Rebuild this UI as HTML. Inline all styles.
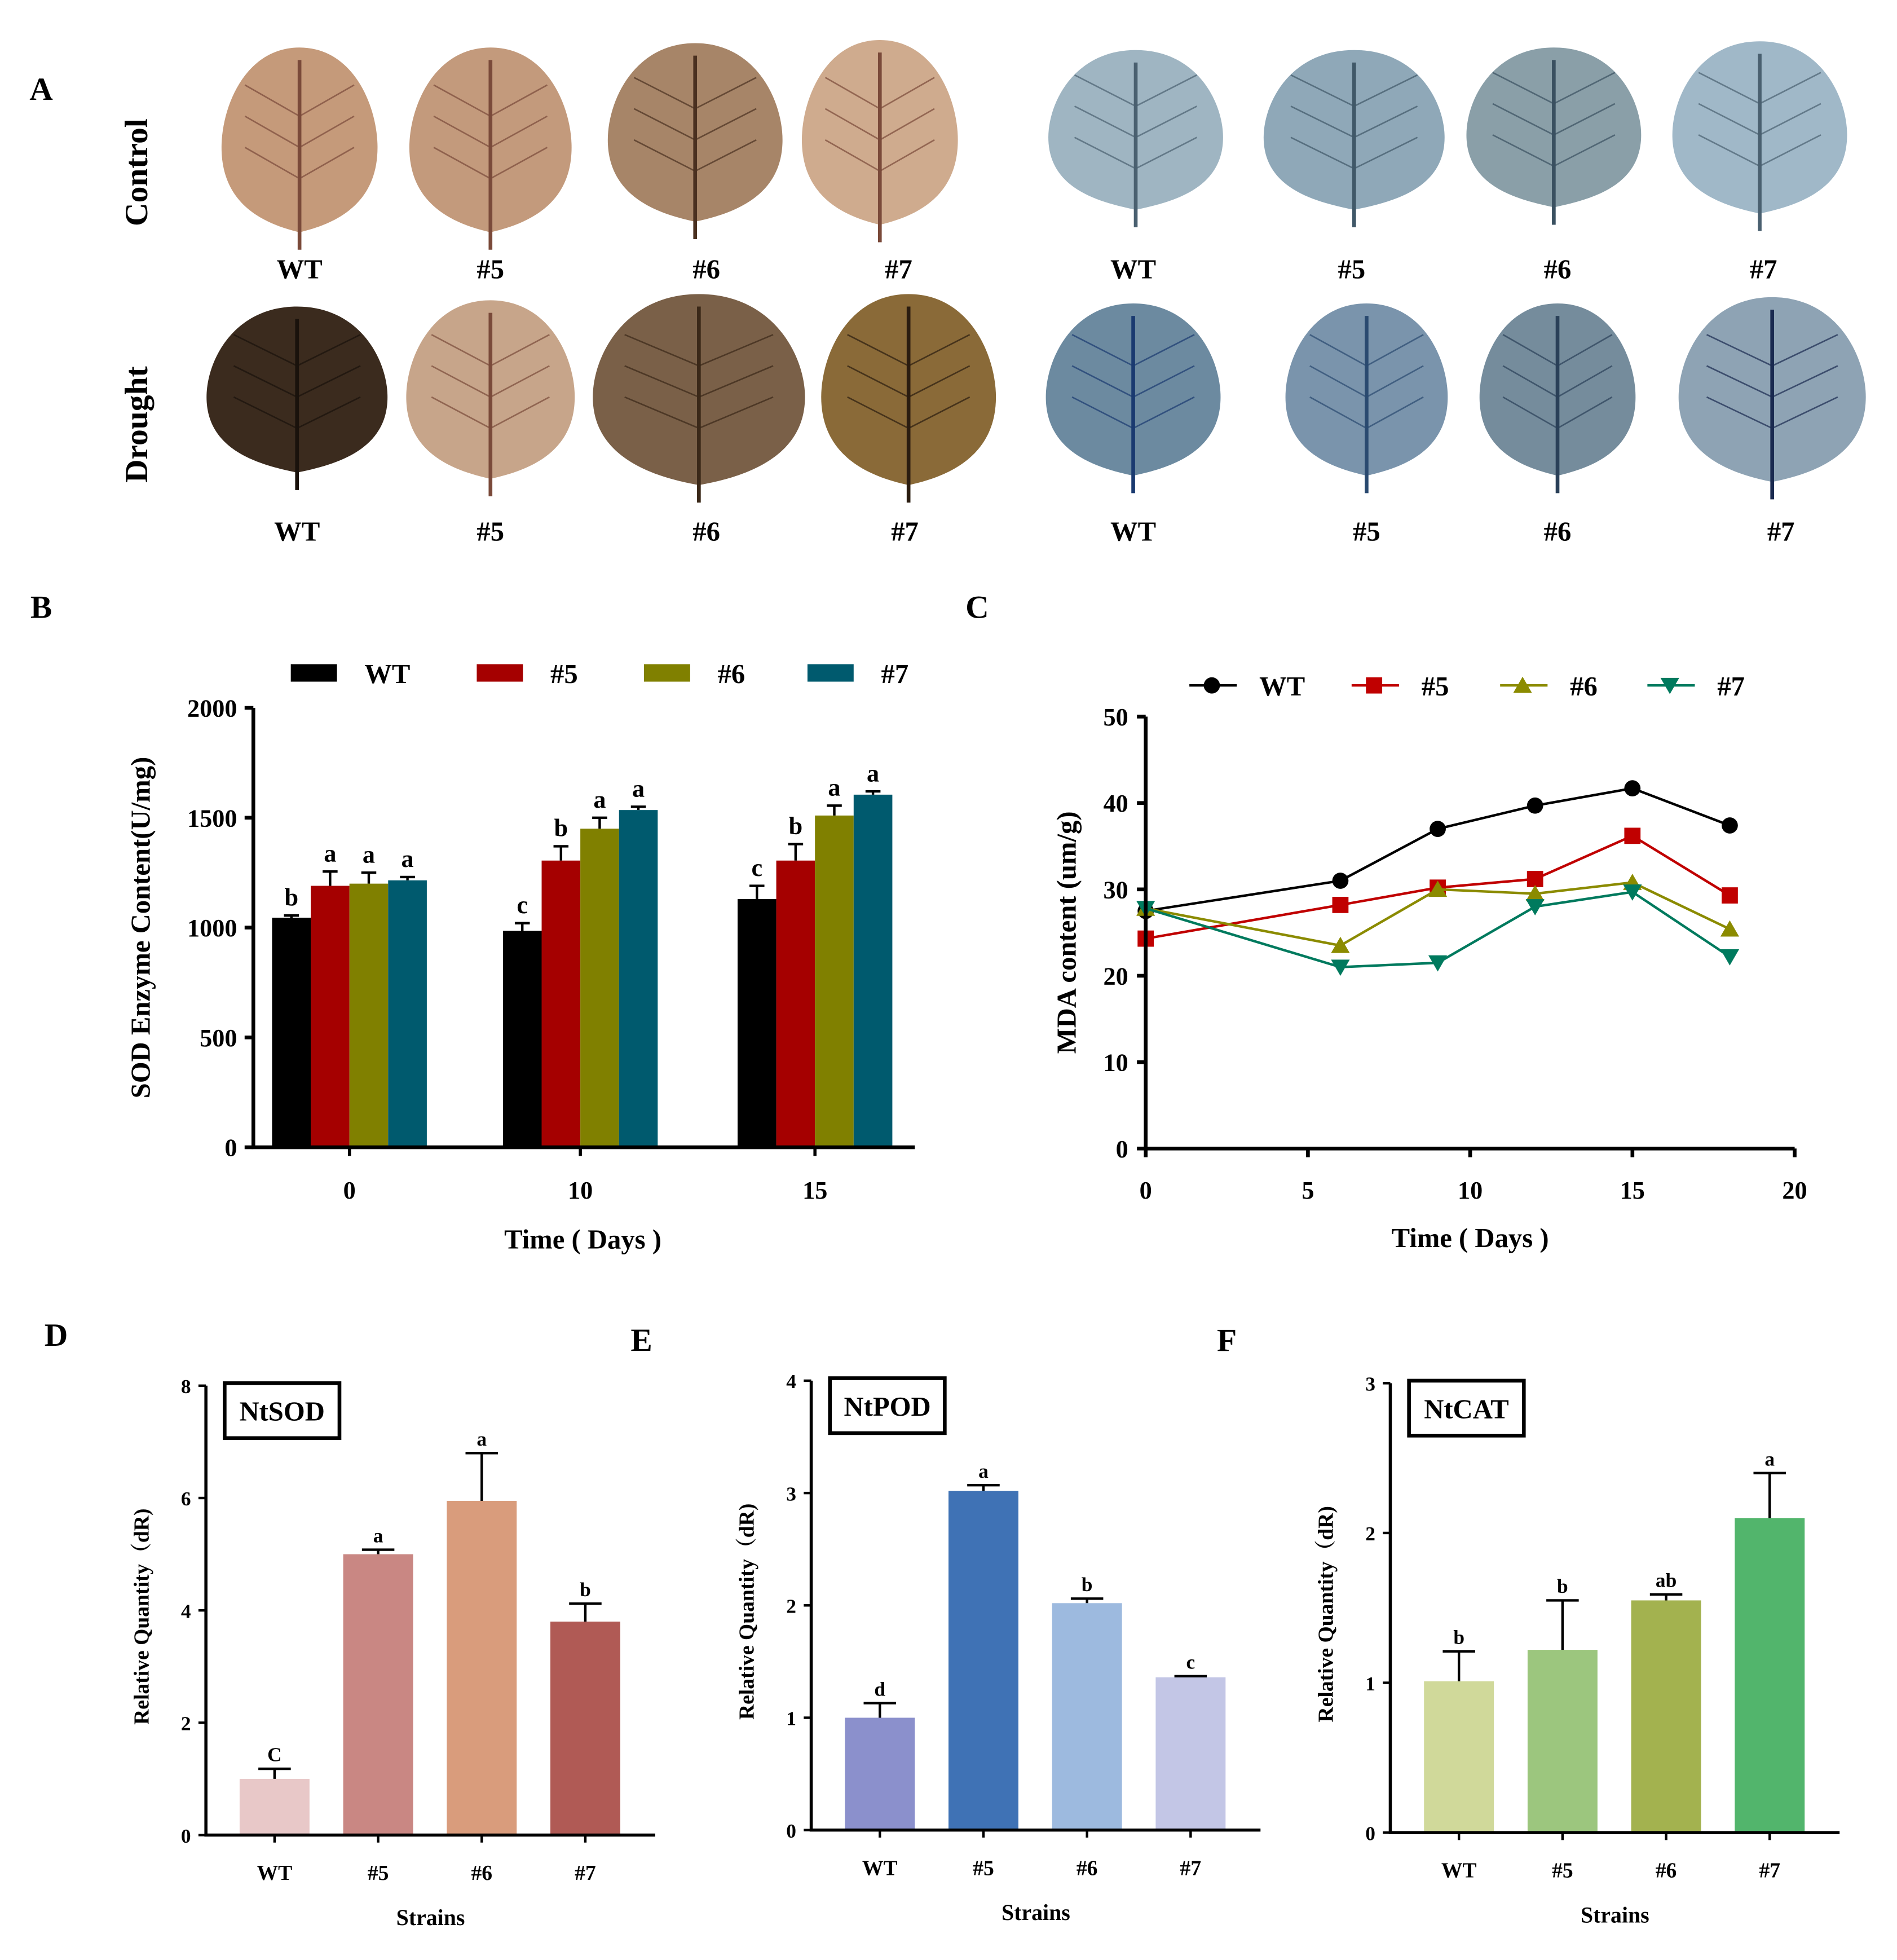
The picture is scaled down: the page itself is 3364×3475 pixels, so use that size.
<!DOCTYPE html>
<html><head><meta charset="utf-8">
<style>
html,body{margin:0;padding:0;background:#fff;}
svg{display:block;font-family:"Liberation Serif",serif;font-weight:bold;}
</style></head>
<body>
<svg id="fig" width="3364" height="3475" viewBox="0 0 1520 1570" xmlns="http://www.w3.org/2000/svg"></svg>
<script>
// ---- Panel B data ----
const bDays = ['0','10','15'];
const bSeries = ['WT','#5','#6','#7'];
const bWT = [1045, 985, 1130];
const b5 = [1190, 1305, 1305];
const b6 = [1200, 1450, 1510];
const b7 = [1215, 1535, 1605];
const bErrWT = [10, 35, 60];
const bErr5 = [65, 65, 75];
const bErr6 = [50, 50, 45];
const bErr7 = [15, 15, 15];
const bLetters = [['b','a','a','a'],['c','b','a','a'],['c','b','a','a']];
const bTicks = [0, 500, 1000, 1500, 2000];
// ---- Panel C data ----
const cDays = [0, 6, 9, 12, 15, 18];
const cWT = [27.5, 31, 37, 39.7, 41.7, 37.4];
const c5 = [24.3, 28.2, 30.2, 31.2, 36.2, 29.3];
const c6 = [27.8, 23.5, 30, 29.5, 30.8, 25.4];
const c7 = [27.8, 21, 21.5, 28, 29.7, 22.2];
const cXTicks = [0, 5, 10, 15, 20];
const cYTicks = [0, 10, 20, 30, 40, 50];
// ---- Panels D/E/F data ----
const strains = ['WT','#5','#6','#7'];
const dVals = [1.0, 5.0, 5.95, 3.8];
const dErr = [0.18, 0.08, 0.85, 0.32];
const dLet = ['C','a','a','b'];
const dTicks = [0, 2, 4, 6, 8];
const eVals = [1.0, 3.02, 2.02, 1.36];
const eErr = [0.13, 0.05, 0.04, 0.01];
const eLet = ['d','a','b','c'];
const eTicks = [0, 1, 2, 3, 4];
const fVals = [1.01, 1.22, 1.55, 2.1];
const fErr = [0.2, 0.33, 0.04, 0.3];
const fLet = ['b','b','ab','a'];
const fTicks = [0, 1, 2, 3];

const NS = 'http://www.w3.org/2000/svg';
const svg = document.getElementById('fig');
function mk(tag, attrs, parent) {
  const e = document.createElementNS(NS, tag);
  for (const k in attrs) e.setAttribute(k, attrs[k]);
  (parent || svg).appendChild(e);
  return e;
}
function txt(x, y, s, size, anchor, parent, extra) {
  const t = mk('text', Object.assign({x: x, y: y, 'font-size': size, 'text-anchor': anchor || 'middle', fill: '#000'}, extra || {}), parent);
  t.textContent = s;
  return t;
}

// ===== Panel A =====
let t = txt(33, 80, 'A', 26, 'middle');


t = txt(0, 0, 'Control', 26, 'middle', svg, {transform: 'translate(118,138) rotate(-90)'});


t = txt(0, 0, 'Drought', 26, 'middle', svg, {transform: 'translate(118,340) rotate(-90)'});



function leaf(cx, cy, w, h, fill, vein, name) {
  const g = mk('g', {});
  
  
  const top = cy - h/2, bot = cy + h/2 - 12;
  const d = `M${cx},${top} C${cx+w*0.35},${top} ${cx+w/2},${cy-h*0.2} ${cx+w/2},${cy} C${cx+w/2},${cy+h*0.3} ${cx+w*0.2},${bot-6} ${cx},${bot} C${cx-w*0.2},${bot-6} ${cx-w/2},${cy+h*0.3} ${cx-w/2},${cy} C${cx-w/2},${cy-h*0.2} ${cx-w*0.35},${top} ${cx},${top} Z`;
  mk('path', {d: d, fill: fill}, g);
  mk('line', {x1: cx, y1: top + 10, x2: cx, y2: bot + 14, stroke: vein, 'stroke-width': 3}, g);
  for (let i = 0; i < 3; i++) {
    const yy = cy + 25 - i*25;
    mk('line', {x1: cx, y1: yy, x2: cx - w*0.35, y2: yy - 25, stroke: vein, 'stroke-width': 1.2, opacity: 0.7}, g);
    mk('line', {x1: cx, y1: yy, x2: cx + w*0.35, y2: yy - 25, stroke: vein, 'stroke-width': 1.2, opacity: 0.7}, g);
  }
}
const row1 = [[240,118,125,160,'#c59a7a','#7a4a3a'],[393,118,130,160,'#c39a7c','#7a4a3a'],[557,112,140,155,'#a78568','#4a3020'],[705,112,125,160,'#cfab8e','#7a4a3a'],
  [910,110,140,140,'#9fb5c2','#4a6070'],[1085,110,145,140,'#8fa8b8','#405868'],[1245,108,140,140,'#8a9fa8','#3a5060'],[1410,108,140,150,'#a0b8c8','#4a6070']];
const row2 = [[238,318,145,145,'#3b2b1e','#1a120c'],[393,318,135,155,'#c7a58a','#7a4a3a'],[560,318,170,165,'#7a6048','#3a2818'],[728,318,140,165,'#8a6a38','#2a1c10'],
  [908,318,140,150,'#6c8aa0','#1a3a70'],[1095,318,130,150,'#7a94ac','#2a4a70'],[1248,318,125,150,'#758c9c','#2a4058'],[1420,318,150,160,'#8ea3b4','#1a2a50']];
row1.forEach((r, i) => leaf(r[0], r[1], r[2], r[3], r[4], r[5], 'control-leaf-' + (i+1)));
row2.forEach((r, i) => leaf(r[0], r[1], r[2], r[3], r[4], r[5], 'drought-leaf-' + (i+1)));
const aLab1 = [240,393,566,720,908,1083,1248,1413];
const aLab2 = [238,393,566,725,908,1095,1248,1427];
const aNames = ['WT','#5','#6','#7','WT','#5','#6','#7'];
aLab1.forEach((x, i) => { const e = txt(x, 223, aNames[i], 22);   });
aLab2.forEach((x, i) => { const e = txt(x, 433, aNames[i], 22);   });

// ===== Panel B =====
t = txt(33, 495, 'B', 26);


const bY = v => 919 - v * (352/2000);
const bGroupX = [280, 465, 653];
const bColors = ['#000000', '#a50000', '#808000', '#005a6e'];
const bVals = [bWT, b5, b6, b7];
const bErrs = [bErrWT, bErr5, bErr6, bErr7];
const bLegX = [233, 382, 516, 647];
bSeries.forEach((s, i) => {
  const r = mk('rect', {x: bLegX[i], y: 532, width: 37, height: 14, fill: bColors[i]});
  
  
  const e = txt(bLegX[i] + 59, 547, s, 22, 'start');
  
  
});
bDays.forEach((d, gi) => {
  bSeries.forEach((s, si) => {
    const x = bGroupX[gi] - 62 + si * 31;
    const v = bVals[si][gi], er = bErrs[si][gi];
    const r = mk('rect', {x: x, y: bY(v), width: 31, height: bY(0) - bY(v), fill: bColors[si]});
    
    
    const cx = x + 15.5;
    const eb = mk('path', {d: `M${cx},${bY(v)} V${bY(v+er)} M${cx-6},${bY(v+er)} H${cx+6}`, stroke: '#000', 'stroke-width': 2, fill: 'none'});
    
    
    const l = txt(cx, bY(v+er) - 8, bLetters[gi][si], 20);
    
    
  });
  const xl = txt(bGroupX[gi], 960, d, 20);
  
  
  mk('line', {x1: bGroupX[gi], y1: 919, x2: bGroupX[gi], y2: 926, stroke: '#000', 'stroke-width': 2.5});
});
let ax = mk('path', {d: 'M203,567 V919 H733', stroke: '#000', 'stroke-width': 3, fill: 'none'});


bTicks.forEach(v => {
  mk('line', {x1: 196, y1: bY(v), x2: 203, y2: bY(v), stroke: '#000', 'stroke-width': 3});
  const e = txt(190, bY(v) + 7, String(v), 20, 'end');
  
  
});
t = txt(0, 0, 'SOD Enzyme Content(U/mg)', 22, 'middle', svg, {transform: 'translate(120,743) rotate(-90)'});


t = txt(467, 1000, 'Time ( Days )', 22);



// ===== Panel C =====
t = txt(783, 495, 'C', 26);


const cX = v => 918 + v * 26;
const cY = v => 920 - v * (346/50);
const cSeries = [cWT, c5, c6, c7];
const cNames = ['WT','#5','#6','#7'];
const cColors = ['#000000', '#c00000', '#8b8b00', '#007a5e'];
function marker(i, x, y, parent) {
  if (i === 0) return mk('circle', {cx: x, cy: y, r: 6.5, fill: cColors[0]}, parent);
  if (i === 1) return mk('rect', {x: x-6.5, y: y-6.5, width: 13, height: 13, fill: cColors[1]}, parent);
  if (i === 2) return mk('path', {d: `M${x},${y-7} L${x+7.5},${y+6} L${x-7.5},${y+6} Z`, fill: cColors[2]}, parent);
  return mk('path', {d: `M${x},${y+7} L${x+7.5},${y-6} L${x-7.5},${y-6} Z`, fill: cColors[3]}, parent);
}
const cLegX = [953, 1083, 1202, 1320];
cNames.forEach((n, i) => {
  const g = mk('g', {});
  
  
  mk('line', {x1: cLegX[i], y1: 549, x2: cLegX[i] + 38, y2: 549, stroke: cColors[i], 'stroke-width': 2}, g);
  marker(i, cLegX[i] + 18, 549, g);
  txt(cLegX[i] + 56, 557, n, 22, 'start', g);
});
cSeries.forEach((s, i) => {
  const pts = s.map((v, j) => cX(cDays[j]) + ',' + cY(v)).join(' ');
  const pl = mk('polyline', {points: pts, fill: 'none', stroke: cColors[i], 'stroke-width': 2});
  
  
  s.forEach((v, j) => {
    const m = marker(i, cX(cDays[j]), cY(v));
    
    
  });
});
ax = mk('path', {d: 'M918,574 V920 H1438', stroke: '#000', 'stroke-width': 3, fill: 'none'});


cYTicks.forEach(v => {
  mk('line', {x1: 911, y1: cY(v), x2: 918, y2: cY(v), stroke: '#000', 'stroke-width': 3});
  const e = txt(904, cY(v) + 7, String(v), 20, 'end');
  
  
});
cXTicks.forEach(v => {
  mk('line', {x1: cX(v), y1: 920, x2: cX(v), y2: 927, stroke: '#000', 'stroke-width': 3});
  const e = txt(cX(v), 960, String(v), 20);
  
  
});
t = txt(0, 0, 'MDA content (um/g)', 22, 'middle', svg, {transform: 'translate(862,747) rotate(-90)'});


t = txt(1178, 999, 'Time ( Days )', 22);



// ===== Panels D/E/F =====
function qpcr(cfg) {
  const g = mk('g', {});
  
  
  const y = v => cfg.y0 - v * (cfg.y0 - cfg.yTop) / cfg.max;
  const lb = txt(cfg.lx, cfg.ly, cfg.id.toUpperCase(), 26, 'middle', g);
  
  
  cfg.vals.forEach((v, i) => {
    const cx = cfg.x0 + 55 + i * 83;
    const r = mk('rect', {x: cx - 28, y: y(v), width: 56, height: y(0) - y(v), fill: cfg.colors[i]}, g);
    
    
    const top = y(v + cfg.err[i]);
    const eb = mk('path', {d: `M${cx},${y(v)} V${top} M${cx-13},${top} H${cx+13}`, stroke: '#000', 'stroke-width': 2, fill: 'none'}, g);
    
    
    const l = txt(cx, top - 6, cfg.letters[i], 16, 'middle', g);
    
    
    const xl = txt(cx, cfg.y0 + 36, strains[i], 17, 'middle', g);
    
    
    mk('line', {x1: cx, y1: cfg.y0, x2: cx, y2: cfg.y0 + 6, stroke: '#000', 'stroke-width': 2}, g);
  });
  const a = mk('path', {d: `M${cfg.x0},${cfg.yTop} V${cfg.y0} H${cfg.x0 + 360}`, stroke: '#000', 'stroke-width': 2.5, fill: 'none'}, g);
  
  
  cfg.ticks.forEach(v => {
    mk('line', {x1: cfg.x0 - 6, y1: y(v), x2: cfg.x0, y2: y(v), stroke: '#000', 'stroke-width': 2}, g);
    const e = txt(cfg.x0 - 12, y(v) + 6, String(v), 16, 'end', g);
    
    
  });
  const bx = mk('rect', {x: cfg.x0 + 15, y: cfg.yTop - 2, width: 92, height: 44, fill: 'none', stroke: '#000', 'stroke-width': 3}, g);
  
  
  const gl = txt(cfg.x0 + 61, cfg.yTop + 28, cfg.gene, 22, 'middle', g);
  
  
  const yt = txt(0, 0, 'Relative Quantity（dR)', 17, 'middle', g, {transform: `translate(${cfg.x0 - 46},${(cfg.y0 + cfg.yTop)/2 + 5}) rotate(-90)`, 'font-family': '"Liberation Serif","Noto Serif CJK SC",serif'});
  
  
  const xt = txt(cfg.x0 + 180, cfg.y0 + 72, 'Strains', 18, 'middle', g);
  
  
}
qpcr({id: 'd', gene: 'NtSOD', x0: 165, y0: 1470, yTop: 1110, max: 8, ticks: dTicks, vals: dVals, err: dErr, letters: dLet, lx: 45, ly: 1078, colors: ['#e8c8c8', '#c98783', '#d99c7c', '#b05a55']});
qpcr({id: 'e', gene: 'NtPOD', x0: 650, y0: 1466, yTop: 1106, max: 4, ticks: eTicks, vals: eVals, err: eErr, letters: eLet, lx: 514, ly: 1082, colors: ['#8b90cc', '#3f72b5', '#9dbadf', '#c3c6e6']});
qpcr({id: 'f', gene: 'NtCAT', x0: 1114, y0: 1468, yTop: 1108, max: 3, ticks: fTicks, vals: fVals, err: fErr, letters: fLet, lx: 983, ly: 1082, colors: ['#d0d99a', '#9cc67e', '#a3b24f', '#52b56c']});
</script>
</body></html>
